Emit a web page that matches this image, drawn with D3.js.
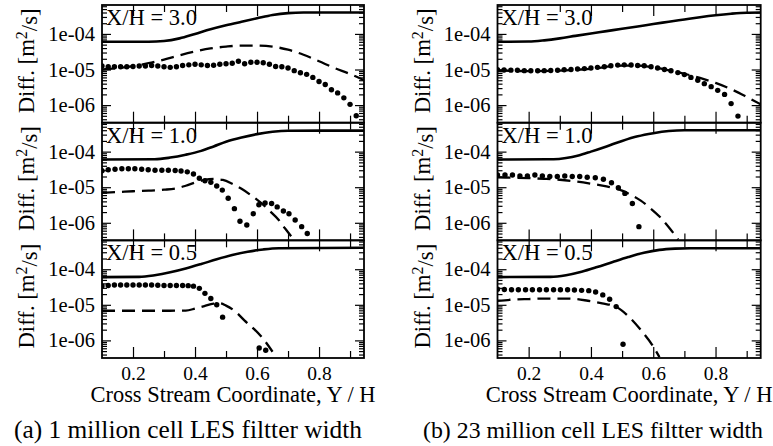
<!DOCTYPE html>
<html><head><meta charset="utf-8">
<script src="https://cdn.jsdelivr.net/npm/d3@7/dist/d3.min.js"></script>
<style>body{margin:0;background:#fff} svg{display:block} text{font-family:"Liberation Serif","DejaVu Serif",serif}</style>
</head><body>
<svg id="c" width="773" height="446"></svg>
<script>
// ---------- labels ----------
const stationLabels = ["X/H = 3.0", "X/H = 1.0", "X/H = 0.5"];
const captions = ["(a) 1 million cell LES filtter width", "(b) 23 million cell LES filtter width"];
const xAxisTitle = "Cross Stream Coordinate, Y / H";
const xTickValues = [0.2, 0.4, 0.6, 0.8];
const xMinorTickValues = [0.3, 0.5, 0.7, 0.9];
const xTickLabels = ["0.2", "0.4", "0.6", "0.8"];
const yTickValues = [1e-4, 1e-5, 1e-6];
const yTickLabels = ["1e-04", "1e-05", "1e-06"];

// ---------- (a) 1 million cells ----------
const a3_solidX = [0.10,0.25,0.30,0.35,0.40,0.45,0.50,0.55,0.60,0.65,0.70,0.75,0.80,0.945];
const a3_solidY = [6e-5,6e-5,6.3e-5,7.5e-5,1e-4,1.35e-4,1.75e-4,2.2e-4,2.75e-4,3.4e-4,3.85e-4,4e-4,4e-4,4e-4];
const a3_dashX = [0.10,0.15,0.20,0.25,0.30,0.35,0.40,0.45,0.50,0.55,0.60,0.65,0.70,0.75,0.80,0.85,0.90,0.945];
const a3_dashY = [1e-5,1.1e-5,1.25e-5,1.5e-5,1.9e-5,2.5e-5,3.2e-5,3.9e-5,4.4e-5,4.7e-5,4.7e-5,4.4e-5,3.6e-5,2.6e-5,1.7e-5,1.1e-5,7.5e-6,5e-6];
const a3_dotX = [0.10,0.12,0.14,0.16,0.18,0.20,0.22,0.24,0.26,0.28,0.30,0.32,0.34,0.36,0.38,0.40,0.42,0.44,0.46,0.48,0.50,0.52,0.54,0.56,0.58,0.60,0.62,0.64,0.66,0.68,0.70,0.72,0.74,0.76,0.78,0.80,0.82,0.84,0.86,0.88,0.90,0.92];
const a3_dotY = [1.25e-5,1.2e-5,1.2e-5,1.2e-5,1.2e-5,1.22e-5,1.25e-5,1.25e-5,1.3e-5,1.25e-5,1.2e-5,1.15e-5,1.2e-5,1.3e-5,1.35e-5,1.4e-5,1.35e-5,1.3e-5,1.32e-5,1.4e-5,1.45e-5,1.5e-5,1.7e-5,1.45e-5,1.6e-5,1.6e-5,1.55e-5,1.4e-5,1.22e-5,1.2e-5,1.1e-5,9.3e-6,8.1e-6,7.3e-6,6.0e-6,4.6e-6,3.8e-6,2.7e-6,2.2e-6,1.6e-6,1.05e-6,5e-7];

const a1_solidX = [0.10,0.27,0.32,0.37,0.42,0.46,0.50,0.55,0.60,0.65,0.70,0.945];
const a1_solidY = [6e-5,6.1e-5,6.8e-5,8.2e-5,1.05e-4,1.4e-4,1.9e-4,2.5e-4,3.1e-4,3.6e-4,3.85e-4,3.9e-4];
const a1_dashX = [0.10,0.15,0.20,0.25,0.30,0.34,0.37,0.40,0.43,0.46,0.49,0.52,0.55,0.58,0.61,0.64,0.67,0.69,0.71];
const a1_dashY = [7.0e-6,7.3e-6,7.7e-6,8.0e-6,8.5e-6,9.3e-6,1.1e-5,1.35e-5,1.6e-5,1.7e-5,1.6e-5,1.25e-5,9e-6,6e-6,3.8e-6,2.2e-6,1.2e-6,7e-7,4.2e-7];
const a1_dotX = [0.100,0.120,0.142,0.164,0.185,0.206,0.228,0.249,0.271,0.293,0.314,0.336,0.355,0.375,0.395,0.414,0.432,0.451,0.470,0.488,0.507,0.527,0.545,0.567,0.588,0.606,0.626,0.647,0.665,0.685,0.703,0.723,0.744,0.762];
const a1_dotY = [2.9e-5,3.1e-5,3.2e-5,3.3e-5,3.3e-5,3.3e-5,3.2e-5,3.1e-5,3.0e-5,3.0e-5,3.0e-5,2.95e-5,2.85e-5,2.7e-5,2.36e-5,1.78e-5,1.52e-5,1.37e-5,1.08e-5,8.3e-6,4.9e-6,2.5e-6,1.1e-6,8.7e-7,1.8e-6,3.2e-6,3.6e-6,3.5e-6,2.8e-6,2.14e-6,1.8e-6,1.2e-6,7.8e-7,5.0e-7];

const a05_solidX = [0.10,0.22,0.27,0.32,0.37,0.42,0.47,0.52,0.57,0.62,0.67,0.945];
const a05_solidY = [6e-5,6.1e-5,6.8e-5,8.2e-5,1.05e-4,1.4e-4,1.9e-4,2.5e-4,3.1e-4,3.6e-4,3.9e-4,4e-4];
const a05_dashX = [0.10,0.20,0.30,0.37,0.40,0.43,0.46,0.48,0.50,0.53,0.56,0.59,0.62,0.65];
const a05_dashY = [6.8e-6,6.8e-6,6.8e-6,6.9e-6,7.8e-6,9.2e-6,1.08e-5,1.1e-5,9.5e-6,6.5e-6,3.6e-6,2.1e-6,1.1e-6,4.8e-7];
const a05_dotX = [0.100,0.120,0.140,0.160,0.180,0.200,0.220,0.240,0.260,0.280,0.300,0.320,0.340,0.360,0.378,0.395,0.414,0.432,0.451,0.470,0.489,0.607,0.628];
const a05_dotY = [3.4e-5,3.5e-5,3.6e-5,3.6e-5,3.6e-5,3.6e-5,3.6e-5,3.6e-5,3.6e-5,3.55e-5,3.5e-5,3.5e-5,3.5e-5,3.5e-5,3.45e-5,3.35e-5,2.9e-5,2.1e-5,1.5e-5,1.0e-5,4.5e-6,6.1e-7,5.3e-7];

// ---------- (b) 23 million cells ----------
const b3_solidX = [0.10,0.20,0.25,0.30,0.35,0.40,0.45,0.50,0.55,0.60,0.65,0.70,0.75,0.80,0.85,0.90,0.945];
const b3_solidY = [6e-5,6.1e-5,6.6e-5,7.5e-5,8.8e-5,1.03e-4,1.2e-4,1.4e-4,1.62e-4,1.9e-4,2.2e-4,2.55e-4,2.95e-4,3.35e-4,3.7e-4,3.95e-4,4e-4];
const b3_dashX = [0.10,0.20,0.30,0.40,0.50,0.55,0.60,0.65,0.70,0.75,0.80,0.85,0.90,0.945];
const b3_dashY = [9.5e-6,9.0e-6,9.3e-6,1.05e-5,1.28e-5,1.28e-5,1.15e-5,9.5e-6,7.6e-6,5.8e-6,4.2e-6,2.8e-6,1.7e-6,1.05e-6];
const b3_dotX = [0.100,0.121,0.143,0.164,0.186,0.207,0.229,0.250,0.271,0.293,0.314,0.336,0.357,0.379,0.400,0.421,0.443,0.464,0.486,0.507,0.529,0.550,0.571,0.593,0.614,0.636,0.657,0.679,0.700,0.721,0.743,0.764,0.786,0.807,0.829,0.850,0.872];
const b3_dotY = [9.8e-6,9.7e-6,9.6e-6,9.5e-6,9.3e-6,9.2e-6,9.2e-6,9.3e-6,9.4e-6,9.5e-6,9.8e-6,1.0e-5,1.03e-5,1.06e-5,1.1e-5,1.15e-5,1.2e-5,1.28e-5,1.33e-5,1.35e-5,1.34e-5,1.3e-5,1.27e-5,1.2e-5,1.1e-5,1.0e-5,9.2e-6,8.2e-6,7.2e-6,6.0e-6,5.0e-6,4.0e-6,3.3e-6,2.6e-6,2.0e-6,1.1e-6,4.9e-7];

const b1_solidX = [0.10,0.28,0.32,0.36,0.40,0.45,0.50,0.55,0.60,0.65,0.70,0.945];
const b1_solidY = [6e-5,6.1e-5,6.6e-5,7.8e-5,1e-4,1.4e-4,2e-4,2.7e-4,3.3e-4,3.8e-4,4e-4,4e-4];
const b1_dashX = [0.10,0.15,0.20,0.25,0.30,0.35,0.40,0.45,0.50,0.53,0.56,0.59,0.62,0.65,0.68];
const b1_dashY = [1.9e-5,1.85e-5,1.8e-5,1.72e-5,1.62e-5,1.45e-5,1.25e-5,1.05e-5,8e-6,6e-6,4.2e-6,2.6e-6,1.5e-6,7.5e-7,3.4e-7];
const b1_dotX = [0.100,0.124,0.148,0.172,0.196,0.220,0.244,0.268,0.292,0.316,0.340,0.364,0.388,0.414,0.440,0.466,0.488,0.509,0.533,0.554];
const b1_dotY = [2.2e-5,2.2e-5,2.2e-5,2.07e-5,2.07e-5,2.2e-5,2.07e-5,2.0e-5,2.0e-5,2.07e-5,2.0e-5,2.0e-5,1.9e-5,1.85e-5,1.67e-5,1.34e-5,9.7e-6,6.7e-6,3.5e-6,7.8e-7];

const b05_solidX = [0.10,0.27,0.32,0.37,0.42,0.47,0.52,0.57,0.62,0.67,0.72,0.945];
const b05_solidY = [6e-5,6.1e-5,6.8e-5,8.5e-5,1.15e-4,1.6e-4,2.2e-4,2.9e-4,3.5e-4,3.8e-4,3.9e-4,3.9e-4];
const b05_dashX = [0.10,0.15,0.20,0.25,0.30,0.34,0.39,0.436,0.479,0.522,0.565,0.597,0.62];
const b05_dashY = [1.3e-5,1.4e-5,1.45e-5,1.5e-5,1.5e-5,1.48e-5,1.3e-5,1.1e-5,8.9e-6,4.6e-6,1.74e-6,7.4e-7,3.4e-7];
const b05_dotX = [0.100,0.122,0.145,0.167,0.190,0.212,0.235,0.257,0.280,0.302,0.325,0.347,0.370,0.393,0.415,0.438,0.460,0.481,0.503];
const b05_dotY = [2.75e-5,2.7e-5,2.65e-5,2.65e-5,2.65e-5,2.65e-5,2.65e-5,2.65e-5,2.65e-5,2.65e-5,2.65e-5,2.6e-5,2.55e-5,2.5e-5,2.3e-5,1.9e-5,1.43e-5,8.9e-6,7.8e-7];

// ---------- assemble ----------
const zip = (xs, ys) => xs.map((x, i) => [x, ys[i]]);
const columns = [
  [ {solid: zip(a3_solidX,a3_solidY), dash: zip(a3_dashX,a3_dashY), dots: zip(a3_dotX,a3_dotY)},
    {solid: zip(a1_solidX,a1_solidY), dash: zip(a1_dashX,a1_dashY), dots: zip(a1_dotX,a1_dotY)},
    {solid: zip(a05_solidX,a05_solidY), dash: zip(a05_dashX,a05_dashY), dots: zip(a05_dotX,a05_dotY)} ],
  [ {solid: zip(b3_solidX,b3_solidY), dash: zip(b3_dashX,b3_dashY), dots: zip(b3_dotX,b3_dotY)},
    {solid: zip(b1_solidX,b1_solidY), dash: zip(b1_dashX,b1_dashY), dots: zip(b1_dotX,b1_dotY)},
    {solid: zip(b05_solidX,b05_solidY), dash: zip(b05_dashX,b05_dashY), dots: zip(b05_dotX,b05_dotY)} ]
];

const FONT = "Liberation Serif, DejaVu Serif, serif";
const svg = d3.select("#c");
const colLeft = [102, 497.5], colRight = [364, 760.7];
const panelTops = [5, 122.7, 240.3], panelH = 117.7;
const xDomain = [0.1, 0.945], yDomain = [3.2e-7, 6.5e-4];

function fit(sel, width) {
  const w = sel.node().getComputedTextLength();
  const fs = parseFloat(sel.attr("font-size"));
  sel.attr("font-size", (fs * width / w).toFixed(2));
}

const defs = svg.append("defs");

columns.forEach((panels, ci) => {
  const x = d3.scaleLinear().domain(xDomain).range([colLeft[ci], colRight[ci]]);
  panels.forEach((p, pi) => {
    const top = panelTops[pi];
    const y = d3.scaleLog().domain(yDomain).range([top + panelH, top]);
    const g = svg.append("g");
    const clipId = `clip${ci}${pi}`;
    defs.append("clipPath").attr("id", clipId).append("rect")
      .attr("x", colLeft[ci]).attr("y", top).attr("width", colRight[ci] - colLeft[ci]).attr("height", panelH);

    const minorY = y.ticks().filter(v => Math.abs(Math.log10(v) - Math.round(Math.log10(v))) > 1e-6);
    const isLast = pi === 2;

    const axes = [
      ["bottom", d3.axisBottom(x).tickValues(xTickValues).tickSize(-11).tickSizeOuter(0)
         .tickFormat(isLast ? (d, i) => xTickLabels[i] : ""), `translate(0,${top + panelH})`],
      ["bottom", d3.axisBottom(x).tickValues(xMinorTickValues).tickSize(-7).tickSizeOuter(0).tickFormat(""), `translate(0,${top + panelH})`],
      ["top", d3.axisTop(x).tickValues(xTickValues).tickSize(-11).tickSizeOuter(0).tickFormat(""), `translate(0,${top})`],
      ["top", d3.axisTop(x).tickValues(xMinorTickValues).tickSize(-7).tickSizeOuter(0).tickFormat(""), `translate(0,${top})`],
      ["left", d3.axisLeft(y).tickValues(yTickValues).tickSize(-9).tickSizeOuter(0)
         .tickFormat((d, i) => yTickLabels[i]).tickPadding(7), `translate(${colLeft[ci]},0)`],
      ["left", d3.axisLeft(y).tickValues(minorY).tickSize(-5).tickSizeOuter(0).tickFormat(""), `translate(${colLeft[ci]},0)`],
      ["right", d3.axisRight(y).tickValues(yTickValues).tickSize(-9).tickSizeOuter(0).tickFormat(""), `translate(${colRight[ci]},0)`],
      ["right", d3.axisRight(y).tickValues(minorY).tickSize(-5).tickSizeOuter(0).tickFormat(""), `translate(${colRight[ci]},0)`]
    ];
    axes.forEach(([side, ax, tr]) => {
      const a = g.append("g").attr("transform", tr).call(ax);
      a.attr("font-family", FONT);
      a.select(".domain").remove();
      a.selectAll(".tick line").attr("stroke", "#000").attr("stroke-width", 1.2);
      a.selectAll(".tick text").attr("font-family", FONT).attr("fill", "#000");
      if (side === "left") a.selectAll(".tick text").attr("font-size", 20.5);
      if (side === "bottom") a.selectAll(".tick text").attr("font-size", 19.5).attr("dy", "0.95em").attr("y", 3);
    });

    const cg = g.append("g").attr("clip-path", `url(#${clipId})`);
    const line = d3.line().x(d => x(d[0])).y(d => y(d[1])).curve(d3.curveMonotoneX);
    cg.append("path").datum(p.solid).attr("d", line)
      .attr("fill", "none").attr("stroke", "#000").attr("stroke-width", 2.6);
    cg.append("path").datum(p.dash).attr("d", line)
      .attr("fill", "none").attr("stroke", "#000").attr("stroke-width", 2.3).attr("stroke-dasharray", "13,7");
    cg.selectAll("circle").data(p.dots).join("circle")
      .attr("cx", d => x(d[0])).attr("cy", d => y(d[1])).attr("r", 2.7).attr("fill", "#000");

    g.append("rect").attr("x", colLeft[ci]).attr("y", top)
      .attr("width", colRight[ci] - colLeft[ci]).attr("height", panelH)
      .attr("fill", "none").attr("stroke", "#000").attr("stroke-width", 1.8);

    const st = g.append("text").attr("x", colLeft[ci] + 4).attr("y", top + 20)
      .attr("font-family", FONT).attr("font-size", 22).text(stationLabels[pi]);
    fit(st, 91);

    const cx = ci === 0 ? 26 : 422, cy = top + panelH / 2 - 3;
    const yt = g.append("text").attr("transform", `translate(${cx},${cy}) rotate(-90)`)
      .attr("text-anchor", "middle").attr("dy", "0.35em")
      .attr("font-family", FONT).attr("font-size", 20);
    yt.append("tspan").text("Diff. [m");
    yt.append("tspan").attr("dy", "-0.45em").attr("font-size", "0.7em").text("2");
    yt.append("tspan").attr("dy", "0.45em").text("/s]");
    fit(yt, 105);
  });

  const xt = svg.append("text").attr("x", (colLeft[ci] + colRight[ci]) / 2).attr("y", 402)
    .attr("text-anchor", "middle").attr("font-family", FONT).attr("font-size", 20).text(xAxisTitle);
  fit(xt, ci === 0 ? 285 : 287);

  const cap = svg.append("text").attr("x", ci === 0 ? 188 : 593).attr("y", 438)
    .attr("text-anchor", "middle").attr("font-family", FONT).attr("font-size", 20).text(captions[ci]);
  fit(cap, ci === 0 ? 348 : 340);
});
</script>
</body></html>
